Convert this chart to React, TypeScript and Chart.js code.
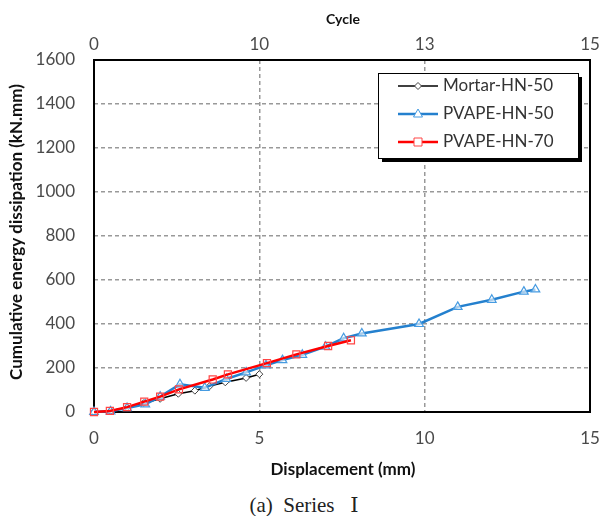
import React, { useEffect, useRef } from "react";
import { Chart, registerables } from "chart.js";

Chart.register(...registerables);

const mortarX = [0, 0.5, 1.0, 1.5, 2.0, 2.55, 3.05, 3.5, 3.97, 4.6, 5.0];
const mortarY = [0, 5, 20, 40, 60, 83, 97, 118, 135, 155, 172];

const blueX = [0, 0.5, 1.0, 1.55, 2.0, 2.6, 3.35, 4.0, 4.6, 5.2, 5.7, 6.3, 7.0, 7.55, 8.1, 9.83, 11.0, 12.03, 13.0, 13.35];
const blueY = [0, 3, 18, 35, 70, 126, 110, 150, 180, 212, 236, 260, 297, 335, 357, 400, 478, 510, 547, 557];

const redX = [0, 0.48, 1.0, 1.52, 2.0, 2.57, 3.59, 4.05, 5.23, 6.12, 7.08, 7.77];
const redY = [0, 5, 22, 47, 70, 103, 148, 171, 222, 262, 300, 326];

const seriesNames = ["Mortar-HN-50", "PVAPE-HN-50", "PVAPE-HN-70"];
const cycleTickLabels = ["0", "10", "13", "15"];
const dispTickValues = [0, 5, 10, 15];

const xTitle = "Displacement (mm)";
const yTitle = "Cumulative energy dissipation (kN.mm)";
const topTitle = "Cycle";
const caption = "(a)  Series   Ⅰ";

const FONT = "Lato";
const TICK_COLOR = "#4a4a4a";
const BLACK = "#000000";
const BLUE = "rgb(36,128,206)";
const BLUE_PT = "rgb(70,155,225)";
const RED = "rgb(255,0,0)";
const RED_PT = "rgb(255,70,70)";

const toPts = (xs: number[], ys: number[]) => xs.map((x, i) => ({ x, y: ys[i] }));

const decorPlugin = {
  id: "decor",
  beforeDatasetsDraw(chart: any) {
    const { ctx, chartArea } = chart;
    ctx.save();
    ctx.strokeStyle = "#000";
    ctx.lineWidth = 2;
    ctx.strokeRect(chartArea.left, chartArea.top, chartArea.right - chartArea.left, chartArea.bottom - chartArea.top);
    ctx.restore();
  },
  afterDraw(chart: any) {
    const { ctx } = chart;
    ctx.save();
    ctx.fillStyle = "#111";
    ctx.font = `bold 17px ${FONT}`;
    ctx.textAlign = "center";
    ctx.textBaseline = "middle";
    ctx.fillText(xTitle, 343, 470);
    ctx.font = `bold 14px ${FONT}`;
    ctx.fillText(topTitle, 343, 19);
    ctx.save();
    ctx.translate(17, 232);
    ctx.rotate(-Math.PI / 2);
    ctx.font = `bold 17px ${FONT}`;
    ctx.fillText(yTitle, 0, 0);
    ctx.restore();

    // legend
    const lx = 378, ly = 73, lw = 200, lh = 85;
    ctx.fillStyle = "#000";
    ctx.fillRect(lx + 4, ly + 4, lw, lh);
    ctx.fillStyle = "#fff";
    ctx.fillRect(lx, ly, lw, lh);
    ctx.strokeStyle = "#000";
    ctx.lineWidth = 1;
    ctx.strokeRect(lx + 0.5, ly + 0.5, lw, lh);
    const rows = [86, 114, 142];
    const cols = [BLACK, BLUE, RED];
    const ptCols = ["#444", BLUE_PT, RED_PT];
    rows.forEach((ry, i) => {
      ctx.strokeStyle = cols[i];
      ctx.lineWidth = i === 0 ? 1.5 : 2.5;
      ctx.beginPath();
      ctx.moveTo(398, ry);
      ctx.lineTo(438, ry);
      ctx.stroke();
      const cx = 418;
      ctx.strokeStyle = ptCols[i];
      ctx.lineWidth = 1;
      ctx.fillStyle = "#fff";
      ctx.beginPath();
      if (i === 0) {
        ctx.moveTo(cx, ry - 3.5); ctx.lineTo(cx + 3.5, ry); ctx.lineTo(cx, ry + 3.5); ctx.lineTo(cx - 3.5, ry); ctx.closePath();
      } else if (i === 1) {
        ctx.moveTo(cx, ry - 5); ctx.lineTo(cx + 4.5, ry + 3); ctx.lineTo(cx - 4.5, ry + 3); ctx.closePath();
      } else {
        ctx.rect(cx - 4, ry - 4, 8, 8);
      }
      ctx.fill();
      ctx.stroke();
      ctx.fillStyle = "#333";
      ctx.font = `17px ${FONT}`;
      ctx.textAlign = "left";
      ctx.textBaseline = "middle";
      ctx.fillText(seriesNames[i], 443, ry);
    });
    ctx.restore();
  },
};

const zeroPad = (s: any) => { s.paddingLeft = 0; s.paddingRight = 0; };

export default function App() {
  const ref = useRef<HTMLCanvasElement>(null);
  useEffect(() => {
    if (!ref.current) return;
    const chart = new Chart(ref.current, {
      type: "line",
      data: {
        datasets: [
          {
            label: seriesNames[0],
            data: toPts(mortarX, mortarY),
            borderColor: BLACK,
            borderWidth: 1.5,
            pointStyle: "rectRot",
            pointRadius: 3.5,
            pointBorderColor: "#444",
            pointBackgroundColor: "#fff",
            pointBorderWidth: 1,
            clip: false,
            order: 2,
          } as any,
          {
            label: seriesNames[1],
            data: toPts(blueX, blueY),
            borderColor: BLUE,
            borderWidth: 2.5,
            pointStyle: "triangle",
            pointRadius: 5,
            pointBorderColor: BLUE_PT,
            pointBackgroundColor: "rgba(255,255,255,0.6)",
            pointBorderWidth: 1.2,
            clip: false,
            order: 1,
          },
          {
            label: seriesNames[2],
            data: toPts(redX, redY),
            borderColor: RED,
            borderWidth: 2.5,
            pointStyle: "rect",
            pointRadius: 5,
            pointBorderColor: RED_PT,
            pointBackgroundColor: "rgba(255,255,255,0)",
            pointBorderWidth: 1.2,
            clip: false,
            order: 0,
          },
        ],
      },
      options: {
        animation: false,
        responsive: false,
        layout: { padding: { left: 0, right: 10, top: 0, bottom: 0 } },
        plugins: { legend: { display: false }, tooltip: { enabled: false } },
        elements: { line: { tension: 0 } },
        scales: {
          x: {
            type: "linear",
            position: "bottom",
            min: 0,
            max: 15,
            afterBuildTicks: (s: any) => { s.ticks = dispTickValues.map((v) => ({ value: v })); },
            afterFit: (s: any) => { s.height = 68; zeroPad(s); },
            ticks: { font: { family: FONT, size: 17 }, color: TICK_COLOR, padding: 16, maxRotation: 0 },
            grid: {
              drawTicks: false,
              color: (c: any) => (c.tick && (c.tick.value === 5 || c.tick.value === 10) ? "#999" : "rgba(0,0,0,0)"),
              lineWidth: 1.5,
            },
            border: { display: false, dash: [4, 3] },
          },
          x2: {
            type: "linear",
            position: "top",
            min: 0,
            max: 15,
            afterBuildTicks: (s: any) => { s.ticks = dispTickValues.map((v) => ({ value: v })); },
            afterFit: (s: any) => { s.height = 60; zeroPad(s); },
            ticks: {
              font: { family: FONT, size: 17 },
              color: TICK_COLOR,
              padding: 5,
              maxRotation: 0,
              callback: (_v: any, i: number) => cycleTickLabels[i],
            },
            grid: { display: false, drawTicks: false },
            border: { display: false },
          },
          y: {
            min: 0,
            max: 1600,
            ticks: {
              stepSize: 200,
              font: { family: FONT, size: 17 },
              color: TICK_COLOR,
              padding: 19,
              callback: (v: any) => String(v),
            },
            afterFit: (s: any) => { s.width = 94; s.paddingTop = 0; s.paddingBottom = 0; },
            grid: {
              drawTicks: false,
              color: (c: any) => (c.tick && c.tick.value > 0 && c.tick.value < 1600 ? "#999" : "rgba(0,0,0,0)"),
              lineWidth: 1.5,
            },
            border: { display: false, dash: [4, 3] },
          },
        },
      } as any,
      plugins: [decorPlugin],
    });
    return () => chart.destroy();
  }, []);

  return (
    <div style={{ position: "absolute", left: 0, top: 0, width: 600, height: 516, background: "#fff" }}>
      <canvas ref={ref} width={600} height={480} style={{ display: "block" }} />
      <div
        style={{
          position: "absolute",
          left: 0,
          width: 608,
          top: 493,
          textAlign: "center",
          whiteSpace: "pre",
          fontFamily: "'Liberation Serif', 'DejaVu Serif', serif",
          fontSize: 21,
          lineHeight: "24px",
          color: "#222",
        }}
      >
        {caption}
      </div>
    </div>
  );
}
